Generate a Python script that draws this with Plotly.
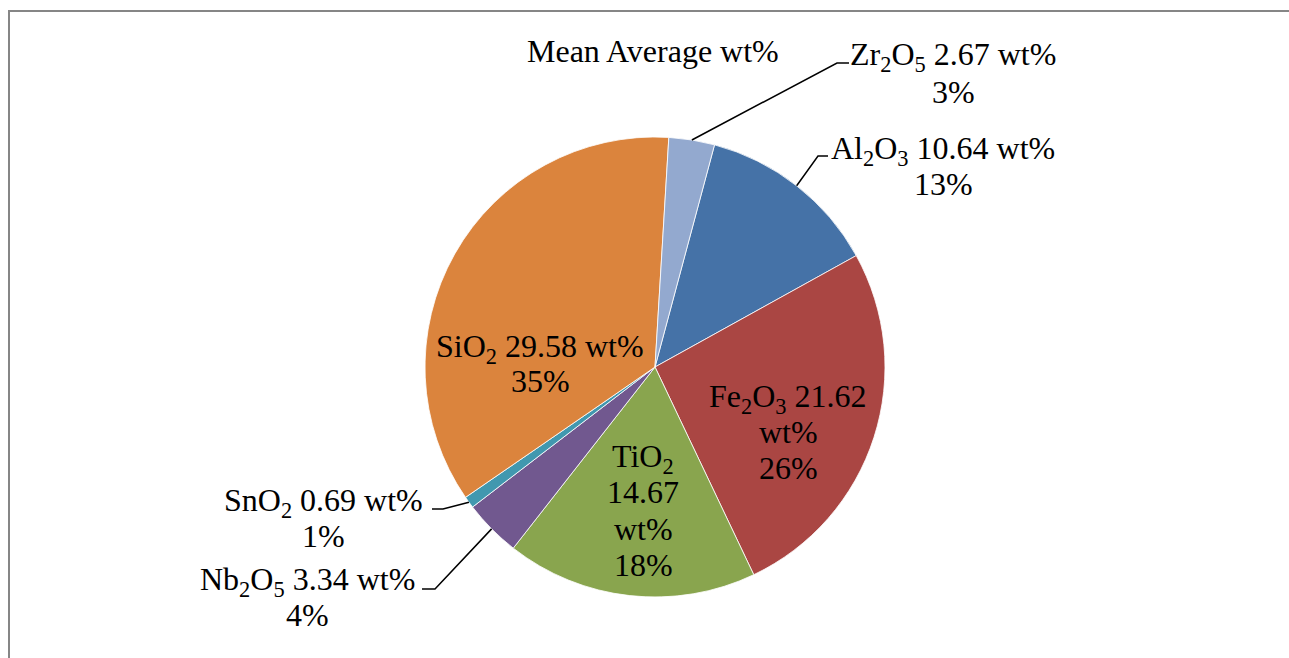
import math
import plotly.graph_objects as go

# Mean oxide composition (wt%), in the order the slices run clockwise
oxides = ["Al<sub>2</sub>O<sub>3</sub>", "Fe<sub>2</sub>O<sub>3</sub>", "TiO<sub>2</sub>",
          "Nb<sub>2</sub>O<sub>5</sub>", "SnO<sub>2</sub>", "SiO<sub>2</sub>",
          "Zr<sub>2</sub>O<sub>5</sub>"]
wt_values = [10.64, 21.62, 14.67, 3.34, 0.69, 29.58, 2.67]
pct_labels = ["13%", "26%", "18%", "4%", "1%", "35%", "3%"]
colors = ["#4572A7", "#AA4643", "#89A54E", "#71588F", "#4198AF", "#DB843D", "#93A9CF"]
title_text = "Mean Average wt%"

W, H = 1289, 658
CX, CY, R = 655, 367, 230          # pie centre and radius in pixels
ROTATION = 15                      # first slice starts 15 deg clockwise from 12 o'clock
FONT = "'Liberation Serif', 'Times New Roman', serif"
FS = 32


def px(x, y):
    """Pixel position -> paper coordinates."""
    return x / W, 1 - y / H


def slice_edge_point(i):
    """Point on the rim at the middle angle of slice i (pixels)."""
    total = sum(wt_values)
    start = ROTATION + 360 * sum(wt_values[:i]) / total
    mid = math.radians(start + 180 * wt_values[i] / total)
    return CX + R * math.sin(mid), CY - R * math.cos(mid)


x0, y0 = px(CX - R, CY + R)
x1, y1 = px(CX + R, CY - R)

fig = go.Figure(go.Pie(
    labels=oxides,
    values=wt_values,
    sort=False,
    direction="clockwise",
    rotation=ROTATION,
    marker=dict(colors=colors, line=dict(color="rgba(255,255,255,0.8)", width=1)),
    textinfo="none",
    hoverinfo="label+value+percent",
    showlegend=False,
    domain=dict(x=[x0, x1], y=[y0, y1]),
))

# data labels, one annotation per text line: (text lines, centre x, line centre y's)
v = [f"{w:.2f}" for w in wt_values]
label_lines = [
    ([f"{oxides[0]} {v[0]} wt%", pct_labels[0]], 943, [150, 184]),
    ([f"{oxides[1]} {v[1]}", "wt%", pct_labels[1]], 788, [398, 432, 468]),
    ([oxides[2], v[2], "wt%", pct_labels[2]], 643, [458, 492, 529, 565]),
    ([f"{oxides[3]} {v[3]} wt%", pct_labels[3]], 307, [581, 615]),
    ([f"{oxides[4]} {v[4]} wt%", pct_labels[4]], 323, [502, 536]),
    ([f"{oxides[5]} {v[5]} wt%", pct_labels[5]], 540, [348, 381]),
    ([f"{oxides[6]} {v[6]} wt%", pct_labels[6]], 953, [57, 92]),
]

annotations = []
for lines, lx, ys in label_lines:
    for txt, ly in zip(lines, ys):
        ax, ay = px(lx, ly)
        annotations.append(dict(
            text=txt, x=ax, y=ay, xref="paper", yref="paper",
            xanchor="center", yanchor="middle", showarrow=False,
            font=dict(family=FONT, size=FS, color="black"),
        ))

tx, ty = px(653, 51)
annotations.append(dict(
    text=title_text, x=tx, y=ty, xref="paper", yref="paper",
    xanchor="center", yanchor="middle", showarrow=False,
    font=dict(family=FONT, size=FS, color="black"),
))

# leader lines: rim point -> elbow -> short horizontal stub
leaders = {0: [(818, 156), (828, 156)],
           3: [(435, 589), (422, 589)],
           4: [(443, 509), (432, 509)],
           6: [(837, 63), (849, 63)]}
shapes = []
for i, pts in leaders.items():
    ex, ey = slice_edge_point(i)
    path_pts = [px(ex, ey)] + [px(a, b) for a, b in pts]
    d = "M " + " L ".join(f"{a:.5f},{b:.5f}" for a, b in path_pts)
    shapes.append(dict(type="path", path=d, xref="paper", yref="paper",
                       line=dict(color="black", width=1.5)))

# chart-area frame
fx0, fy1 = px(9, 11)
shapes.append(dict(type="rect", xref="paper", yref="paper",
                   x0=fx0, y0=-0.05, x1=1.05, y1=fy1,
                   line=dict(color="#868686", width=2), fillcolor="rgba(0,0,0,0)"))

fig.update_layout(
    width=W, height=H,
    margin=dict(l=0, r=0, t=0, b=0),
    paper_bgcolor="white",
    plot_bgcolor="white",
    font=dict(family=FONT),
    annotations=annotations,
    shapes=shapes,
)

fig.write_html("out.html")
